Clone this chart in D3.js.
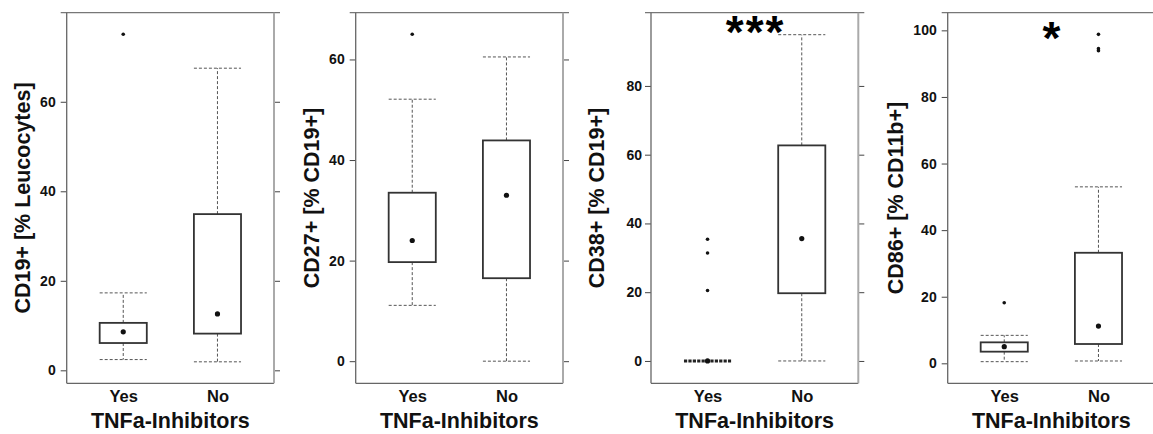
<!DOCTYPE html>
<html>
<head>
<meta charset="utf-8">
<script src="https://cdn.jsdelivr.net/npm/d3@7"></script>
<style>
  body { margin: 0; background: #fff; }
  svg { display: block; font-family: "Liberation Sans", Arial, sans-serif; }
</style>
</head>
<body>
<svg id="chart" width="1153" height="434"></svg>
<script>
// groups on the x axis
const groups = ["Yes", "No"];
const xTitle = "TNFa-Inhibitors";

const yLabels = ["CD19+ [% Leucocytes]", "CD27+ [% CD19+]", "CD38+ [% CD19+]", "CD86+ [% CD11b+]"];
const yDomains = [[-2.9, 79.9], [-4.4, 69.3], [-6.5, 101.3], [-6.0, 105.3]];
const yTicks = [[0, 20, 40, 60], [0, 20, 40, 60], [0, 20, 40, 60, 80], [0, 20, 40, 60, 80, 100]];

// per group: [lower whisker, q1, dot, q3, upper whisker]
const cd19Stats = [[2.4, 6.1, 8.6, 10.6, 17.3], [1.9, 8.2, 12.6, 34.9, 67.5]];
const cd27Stats = [[11.1, 19.7, 24.0, 33.5, 52.1], [0, 16.5, 33.0, 43.9, 60.5]];
const cd38Stats = [[0, 0, 0, 0, 0], [0, 19.7, 35.6, 62.7, 94.9]];
const cd86Stats = [[0.5, 3.5, 5.0, 6.3, 8.4], [0.7, 5.8, 11.2, 33.2, 53.0]];

const cd19Outliers = [[75.1], []];
const cd27Outliers = [[65.0], []];
const cd38Outliers = [[35.4, 31.4, 20.5], []];
const cd86Outliers = [[18.2], [98.8, 94.5, 93.9]];

const significance = ["", "", "***", "*"];

const allStats = [cd19Stats, cd27Stats, cd38Stats, cd86Stats];
const allOutliers = [cd19Outliers, cd27Outliers, cd38Outliers, cd86Outliers];

// layout
const panelLeft = [66.7, 355.7, 651, 947.7];
const panelW = 207.3;
const plotTop = 12.7, plotBottom = 383.3;
const labelOffset = [44.7, 44, 54.3, 52.7];
const starBaseline = [0, 0, 48, 54];

const svg = d3.select("#chart");

panelLeft.forEach((left, i) => {
	const x = d3.scaleLinear().domain([0.4, 2.6]).range([left, left + panelW]);
	const y = d3.scaleLinear().domain(yDomains[i]).range([plotBottom, plotTop]);
	const g = svg.append("g");

	// left axis with labels
	const ax = g.append("g")
		.attr("transform", `translate(${left},0)`)
		.call(d3.axisLeft(y).tickValues(yTicks[i]).tickSize(6).tickPadding(i == 2 ? 3 : 5));
	ax.select(".domain").remove();
	ax.selectAll("line").attr("stroke", "#444");
	ax.selectAll("text")
		.attr("font-family", "Liberation Sans, Arial, sans-serif")
		.attr("font-size", 14)
		.attr("font-weight", "bold")
		.attr("fill", "#111");

	// mirrored ticks on the right
	const ar = g.append("g")
		.attr("transform", `translate(${left + panelW},0)`)
		.call(d3.axisRight(y).tickValues(yTicks[i]).tickSize(6).tickFormat(""));
	ar.select(".domain").remove();
	ar.selectAll("line").attr("stroke", "#444");

	// group labels
	const axb = g.append("g")
		.attr("transform", `translate(0,${plotBottom})`)
		.call(d3.axisBottom(x).tickValues([1, 2]).tickSize(0).tickPadding(7)
			.tickFormat(d => groups[d - 1]));
	axb.select(".domain").remove();
	axb.selectAll("text")
		.attr("font-family", "Liberation Sans, Arial, sans-serif")
		.attr("font-size", 16.5)
		.attr("font-weight", "bold")
		.attr("fill", "#111");

	// frame
	g.append("line").attr("x1", left - 6).attr("x2", left + panelW + 6)
		.attr("y1", plotTop).attr("y2", plotTop).attr("stroke", "#777").attr("stroke-width", 1.3);
	g.append("line").attr("x1", left).attr("x2", left)
		.attr("y1", plotTop).attr("y2", plotBottom).attr("stroke", "#666").attr("stroke-width", 1.3);
	g.append("line").attr("x1", left).attr("x2", left + panelW)
		.attr("y1", plotBottom).attr("y2", plotBottom).attr("stroke", "#666").attr("stroke-width", 1.3);
	g.append("line").attr("x1", left + panelW).attr("x2", left + panelW)
		.attr("y1", plotTop).attr("y2", plotBottom).attr("stroke", "#aaa").attr("stroke-width", 2);

	// boxes
	allStats[i].forEach((s, j) => {
		const cx = x(j + 1);
		const hw = x(1.25) - x(1);
		const [lo, q1, mid, q3, hi] = s;
		const dash = "3,2";
		if (hi > q3) {
			g.append("line").attr("x1", cx).attr("x2", cx).attr("y1", y(q3)).attr("y2", y(hi))
				.attr("stroke", "#555").attr("stroke-dasharray", dash);
		}
		if (lo < q1) {
			g.append("line").attr("x1", cx).attr("x2", cx).attr("y1", y(q1)).attr("y2", y(lo))
				.attr("stroke", "#555").attr("stroke-dasharray", dash);
		}
		if (hi > lo) {
			[lo, hi].forEach(v => {
				g.append("line").attr("x1", cx - hw).attr("x2", cx + hw).attr("y1", y(v)).attr("y2", y(v))
					.attr("stroke", "#555").attr("stroke-dasharray", dash);
			});
		}
		if (q3 > q1) {
			g.append("rect").attr("x", cx - hw).attr("width", 2 * hw)
				.attr("y", y(q3)).attr("height", y(q1) - y(q3))
				.attr("fill", "none").attr("stroke", "#333").attr("stroke-width", 1.8);
		} else {
			// collapsed box: a row of zeros
			g.append("line").attr("x1", cx - hw).attr("x2", cx + hw).attr("y1", y(q1)).attr("y2", y(q1))
				.attr("stroke", "#222").attr("stroke-width", 3).attr("stroke-dasharray", "3.2,1.2");
		}
		g.append("circle").attr("cx", cx).attr("cy", y(mid)).attr("r", 2.6).attr("fill", "#111");
		allOutliers[i][j].forEach(v => {
			g.append("circle").attr("cx", cx).attr("cy", y(v)).attr("r", 1.8).attr("fill", "#111");
		});
	});

	// y title
	const cy = (plotTop + plotBottom) / 2;
	g.append("text")
		.attr("transform", `translate(${left - labelOffset[i]},${cy}) rotate(-90)`)
		.attr("text-anchor", "middle")
		.attr("dy", "0.35em")
		.attr("font-size", 21.5)
		.attr("font-weight", "bold")
		.attr("fill", "#111")
		.text(yLabels[i]);

	// x title
	g.append("text")
		.attr("x", left + panelW / 2)
		.attr("y", 428)
		.attr("text-anchor", "middle")
		.attr("font-size", 21.5)
		.attr("font-weight", "bold")
		.attr("fill", "#111")
		.text(xTitle);

	if (significance[i]) {
		g.append("text")
			.attr("x", x(1.5) + 1)
			.attr("y", starBaseline[i])
			.attr("text-anchor", "middle")
			.attr("font-size", 46)
			.attr("font-weight", "bold")
			.attr("letter-spacing", 2)
			.attr("fill", "#000")
			.text(significance[i]);
	}
});
</script>
</body>
</html>
